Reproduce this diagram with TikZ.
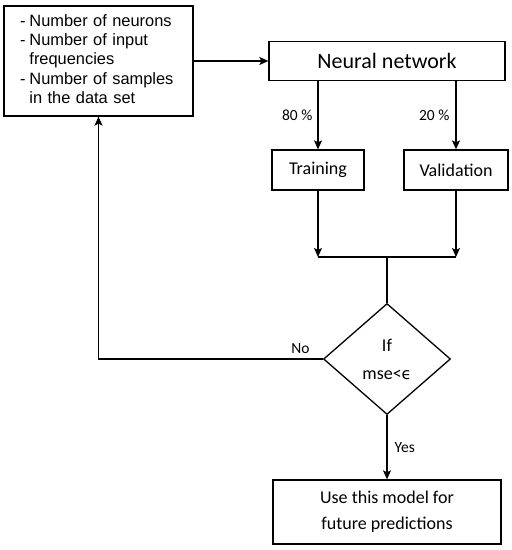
\documentclass[tikz,border=0pt]{standalone}
\usepackage{fontspec}
\setmainfont{Carlito}
\newfontfamily\arialfont{Liberation Sans}
\newfontfamily\greekfont{DejaVu Sans}
\usetikzlibrary{shapes.geometric}
\usetikzlibrary{arrows.meta}
\usetikzlibrary{positioning}

\begin{document}
\begin{tikzpicture}[x=1pt, y=-1pt, line width=1.3pt,
        >={Stealth[length=9pt, width=8pt, inset=2pt]},
        block/.style={draw, rectangle, inner sep=0pt, align=center,
            font=\fontsize{18}{26}\selectfont},
        test/.style={draw, diamond, inner sep=0pt, aspect=1.14, align=center,
            font=\fontsize{18}{28}\selectfont},
        lbl/.style={font=\fontsize{15.5}{18}\selectfont}]
        \useasboundingbox (0, 0) rectangle (512, 550);

        \node [block, minimum width=189pt, minimum height=110pt, text width=157pt,
            inner xsep=16pt, align=left, font=\arialfont\fontsize{16.4}{19.3}\selectfont]
            (params) at (98.5, 61)
            {\begin{tabular}{@{}l@{\hspace{4pt}}l@{}}
                - & Number of neurons\\
                - & Number of input\\
                  & frequencies\\
                - & Number of samples\\
                  & in the data set
            \end{tabular}};
        \node [block, minimum width=236pt, minimum height=39pt,
            font=\fontsize{22}{26}\selectfont] (nn) at (387, 61) {Neural network};
        \node [block, minimum width=92pt, minimum height=40pt] (train) at (318, 170) {Training};
        \node [block, minimum width=104pt, minimum height=40pt] (valid) at (456, 170) {Validation};
        \coordinate (join) at (387, 257);
        \node [test, minimum width=127pt, minimum height=111pt] (check) at (387, 359)
            {If\\mse<{\greekfont\fontsize{16}{28}\selectfont ϵ}};
        \node [block, minimum width=228pt, minimum height=64pt] (use) at (387, 512)
            {Use this model for\\future predictions};

        \draw [->] (params) -- (nn);
        \draw [->] (nn.south -| train) -- node [lbl, left, inner sep=5pt] {80 \%} (train);
        \draw [->] (nn.south -| valid) -- node [lbl, left, inner sep=6pt] {20 \%} (valid);
        \draw [->] (train) -- (train |- join);
        \draw [->] (valid) -- (valid |- join);
        \draw (train |- join) -- (valid |- join);
        \draw (join) -- (check);
        \draw [->] (check) -- node [lbl, right, inner sep=7pt] {Yes} (use);
        \draw [->] (check.west) -| node [lbl, above, pos=0.05, inner sep=5pt] {No} (params);
    \end{tikzpicture}
\end{document}
